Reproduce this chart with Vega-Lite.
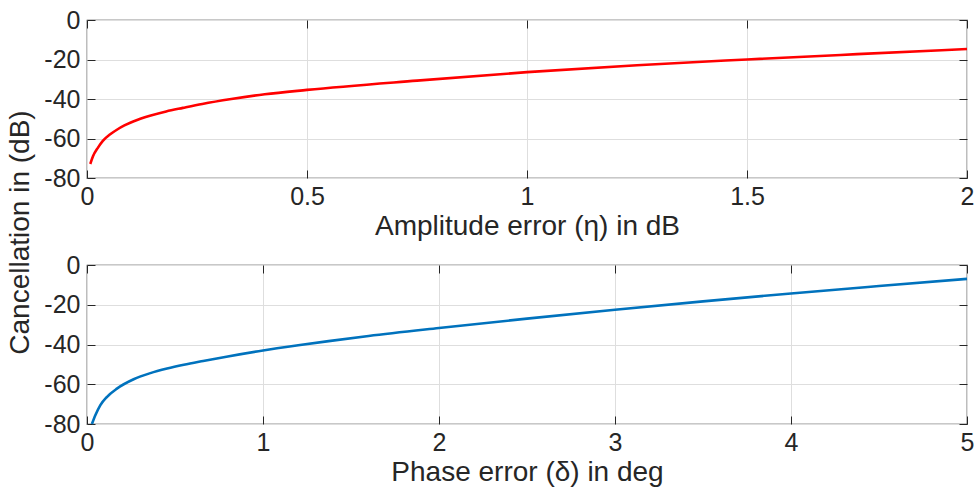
{
  "$schema": "https://vega.github.io/schema/vega-lite/v6.json",
  "background": "white",
  "padding": {"left": 6, "top": 7, "right": 0, "bottom": 0},
  "bounds": "flush",
  "spacing": 87,
  "datasets": {
    "amp": [
      {"eta": 0.0075, "c": -72.9}, {"eta": 0.0136, "c": -69.0}, {"eta": 0.025, "c": -64.6},
      {"eta": 0.036, "c": -61.2}, {"eta": 0.052, "c": -58.0}, {"eta": 0.067, "c": -55.7},
      {"eta": 0.085, "c": -53.4}, {"eta": 0.105, "c": -51.4}, {"eta": 0.143, "c": -48.5},
      {"eta": 0.18, "c": -46.3}, {"eta": 0.218, "c": -44.5}, {"eta": 0.262, "c": -42.5},
      {"eta": 0.328, "c": -40.0}, {"eta": 0.404, "c": -37.6}, {"eta": 0.5, "c": -35.4},
      {"eta": 0.75, "c": -30.7}, {"eta": 1.0, "c": -26.4}, {"eta": 1.25, "c": -22.9},
      {"eta": 1.5, "c": -20.0}, {"eta": 1.75, "c": -17.3}, {"eta": 2.0, "c": -14.7}
    ],
    "phase": [
      {"delta": 0.028, "c": -80.0}, {"delta": 0.048, "c": -75.5}, {"delta": 0.076, "c": -70.5},
      {"delta": 0.114, "c": -66.3}, {"delta": 0.17, "c": -62.2}, {"delta": 0.265, "c": -57.5},
      {"delta": 0.36, "c": -54.4}, {"delta": 0.455, "c": -52.1}, {"delta": 0.55, "c": -50.2},
      {"delta": 0.66, "c": -48.3}, {"delta": 0.8, "c": -46.0}, {"delta": 1.0, "c": -43.0},
      {"delta": 1.2, "c": -40.4}, {"delta": 1.373, "c": -38.3}, {"delta": 1.6, "c": -35.7},
      {"delta": 2.0, "c": -31.7}, {"delta": 2.5, "c": -27.0}, {"delta": 3.0, "c": -22.5},
      {"delta": 3.5, "c": -18.3}, {"delta": 4.0, "c": -14.3}, {"delta": 4.5, "c": -10.6},
      {"delta": 5.0, "c": -7.0}
    ]
  },
  "vconcat": [
    {
      "width": 880,
      "height": 158,
      "layer": [
        {
          "data": {"name": "amp"},
          "mark": {"type": "line", "color": "#FF0000", "strokeWidth": 2.6, "interpolate": "monotone"},
          "encoding": {
            "x": {"field": "eta", "type": "quantitative", "scale": {"domain": [0, 2], "nice": false, "zero": false},
                  "axis": {"title": "Amplitude error (η) in dB", "values": [0, 0.5, 1, 1.5, 2], "format": "~g"}},
            "y": {"field": "c", "type": "quantitative", "scale": {"domain": [-80, 0], "nice": false},
                  "axis": {"title": "Cancellation in (dB)", "titleY": 212, "values": [-80, -60, -40, -20, 0],
                           "labelExpr": "datum.value == 0 ? '0' : '-' + abs(datum.value)"}}
          }
        },
        {
          "data": {"name": "amp"},
          "mark": {"type": "line", "opacity": 0},
          "encoding": {
            "x": {"field": "eta", "type": "quantitative", "scale": {"domain": [0, 2], "nice": false, "zero": false},
                  "axis": {"orient": "top", "title": null, "labels": false, "grid": false, "values": [0, 0.5, 1, 1.5, 2]}},
            "y": {"field": "c", "type": "quantitative", "scale": {"domain": [-80, 0], "nice": false},
                  "axis": {"orient": "right", "title": null, "labels": false, "grid": false, "values": [-80, -60, -40, -20, 0]}}
          }
        }
      ],
      "resolve": {"axis": {"x": "independent", "y": "independent"}}
    },
    {
      "width": 880,
      "height": 159,
      "layer": [
        {
          "data": {"name": "phase"},
          "mark": {"type": "line", "color": "#0072BD", "strokeWidth": 2.6, "interpolate": "monotone"},
          "encoding": {
            "x": {"field": "delta", "type": "quantitative", "scale": {"domain": [0, 5], "nice": false, "zero": false},
                  "axis": {"title": "Phase error (δ) in deg", "values": [0, 1, 2, 3, 4, 5], "format": "~g"}},
            "y": {"field": "c", "type": "quantitative", "scale": {"domain": [-80, 0], "nice": false},
                  "axis": {"title": null, "values": [-80, -60, -40, -20, 0],
                           "labelExpr": "datum.value == 0 ? '0' : '-' + abs(datum.value)"}}
          }
        },
        {
          "data": {"name": "phase"},
          "mark": {"type": "line", "opacity": 0},
          "encoding": {
            "x": {"field": "delta", "type": "quantitative", "scale": {"domain": [0, 5], "nice": false, "zero": false},
                  "axis": {"orient": "top", "title": null, "labels": false, "grid": false, "values": [0, 1, 2, 3, 4, 5]}},
            "y": {"field": "c", "type": "quantitative", "scale": {"domain": [-80, 0], "nice": false},
                  "axis": {"orient": "right", "title": null, "labels": false, "grid": false, "values": [-80, -60, -40, -20, 0]}}
          }
        }
      ],
      "resolve": {"axis": {"x": "independent", "y": "independent"}}
    }
  ],
  "config": {
    "view": {"stroke": "#262626", "strokeWidth": 1.2},
    "axis": {
      "domain": false,
      "labelFlush": false,
      "tickColor": "#262626",
      "tickSize": -8,
      "tickWidth": 1,
      "gridColor": "#dedede",
      "gridWidth": 1,
      "labelFont": "Liberation Sans",
      "labelFontSize": 25,
      "labelColor": "#262626",
      "titleFont": "Liberation Sans",
      "titleFontSize": 28,
      "titleFontWeight": "normal",
      "titleColor": "#262626",
      "titlePadding": 3
    },
    "axisX": {"labelPadding": 14},
    "axisY": {"labelPadding": 15, "titlePadding": 9}
  }
}
